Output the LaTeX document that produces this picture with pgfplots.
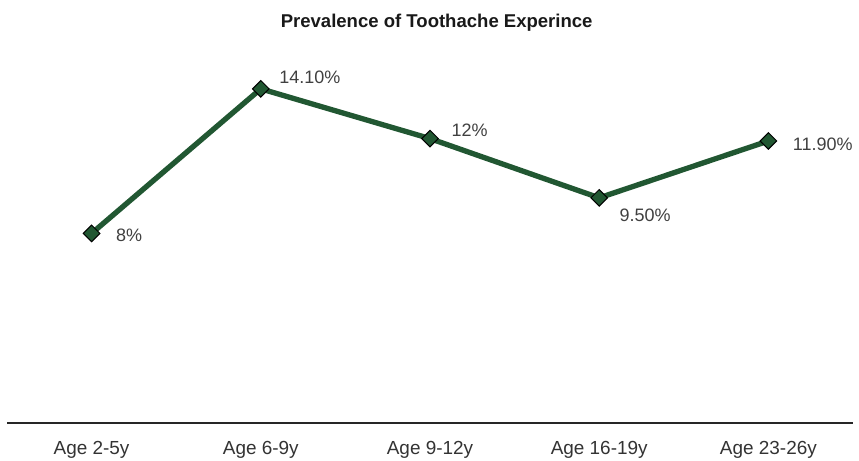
\documentclass[border=0pt]{standalone}
\usepackage{fontspec}
\setmainfont{Liberation Sans}
\usepackage{pgfplots}
\usepackage{pgfplotstable}
\pgfplotsset{compat=1.18}

\definecolor{linegreen}{HTML}{215732}
\definecolor{labelgray}{HTML}{404040}
\definecolor{tickgray}{HTML}{333333}

% x  y  lab  dx(pt)  dy(pt)
\pgfplotstableread{
x y lab dx dy
0 8.0 8 18 -1.5
1 14.1 14.10 13.5 8.8
2 12.0 12 15.75 6
3 9.5 9.50 15 -12.75
4 11.9 11.90 18 -2.25
}\toothache

\begin{document}
\begin{tikzpicture}
\path[use as bounding box] (-5.25pt,-27.75pt) rectangle (639pt,317.25pt);
\begin{axis}[
    at={(63.45pt,0)}, anchor=origin,
    scale only axis,
    width=634.5pt, height=284.4pt,
    xmin=-0.5, xmax=4.5,
    ymin=0, ymax=16,
    axis x line*=bottom,
    axis y line=none,
    x axis line style={line width=1.5pt, color=black!85},
    xtick=data,
    xticklabels={Age 2-5y, Age 6-9y, Age 9-12y, Age 16-19y, Age 23-26y},
    major tick length=0pt,
    xticklabel style={font=\fontsize{14.2}{17}\selectfont, text=tickgray, anchor=base, yshift=-23.25pt},
    title={Prevalence of Toothache Experince},
    title style={font=\fontsize{13.9}{16}\selectfont\bfseries, text=black!90,
        at={(0.5,1)}, anchor=base, yshift=6pt, xshift=5pt},
    clip=false,
]
\addplot[
    color=linegreen,
    line width=4pt,
    mark=square*,
    mark size=4.4pt,
    mark options={rotate=45, fill=linegreen, draw=black, line width=0.75pt},
    point meta=explicit symbolic,
    visualization depends on={\thisrow{dx}\as\dx},
    visualization depends on={\thisrow{dy}\as\dy},
    nodes near coords={\pgfplotspointmeta\%},
    nodes near coords style={anchor=west, inner sep=0pt, xshift=\dx pt, yshift=\dy pt,
        text=labelgray, font=\fontsize{13.5}{16}\selectfont},
] table[x=x, y=y, meta=lab] {\toothache};
\end{axis}
\end{tikzpicture}
\end{document}
